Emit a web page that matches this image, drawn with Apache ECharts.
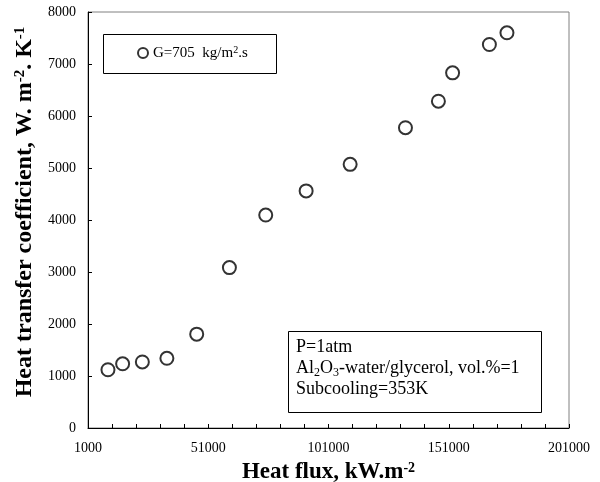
<!DOCTYPE html>
<html><head><meta charset="utf-8">
<script src="https://cdn.jsdelivr.net/npm/echarts@6/dist/echarts.min.js"></script>
<style>html,body{margin:0;padding:0;background:#fff}#c{width:600px;height:482px}</style>
</head><body><div id="c"></div>
<script>
const heatFlux = [9300, 15400, 23600, 33800, 46200, 59800, 74900, 91700, 110000, 133000, 146700, 152600, 167900, 175200];
const htc = [1120, 1235, 1270, 1340, 1805, 3085, 4095, 4560, 5070, 5775, 6285, 6830, 7375, 7600];
const xTicks = [1000, 51000, 101000, 151000, 201000];
const yTicks = [0, 1000, 2000, 3000, 4000, 5000, 6000, 7000, 8000];
const seriesName = 'G=705';
const noteLines = ['P=1atm', 'Al2O3-water/glycerol, vol.%=1', 'Subcooling=353K'];

const serif = '"Liberation Serif", "Times New Roman", serif';
const chart = echarts.init(document.getElementById('c'), null, {renderer: 'canvas'});
chart.setOption({
  animation: false,
  backgroundColor: '#fff',
  grid: {left: 88, right: 31, top: 12, bottom: 54, show: true, borderColor: '#808080', borderWidth: 1,
    containLabel: false, outerBoundsMode: 'none'},
  xAxis: {
    type: 'value', min: xTicks[0], max: xTicks[xTicks.length - 1], interval: 10000,
    axisLine: {lineStyle: {color: '#000', width: 1}},
    axisTick: {inside: true, length: 4, lineStyle: {color: '#000'}},
    splitLine: {show: false},
    axisLabel: {color: '#000', fontFamily: serif, fontSize: 14, margin: 13,
      formatter: v => xTicks.includes(v) ? String(v) : ''},
    name: '{a|Heat flux, kW.m}{s|-2}', nameLocation: 'middle', nameGap: 33,
    nameTextStyle: {rich: {
      a: {fontFamily: serif, fontSize: 23, fontWeight: 'bold', color: '#000'},
      s: {fontFamily: serif, fontSize: 14, fontWeight: 'bold', color: '#000', verticalAlign: 'top', padding: [0, 0, 9, 0]}
    }}
  },
  yAxis: {
    type: 'value', min: yTicks[0], max: yTicks[yTicks.length - 1], interval: 1000,
    axisLine: {show: true, lineStyle: {color: '#000', width: 1}},
    axisTick: {show: true, inside: true, length: 4, lineStyle: {color: '#000'}},
    splitLine: {show: false},
    axisLabel: {color: '#000', fontFamily: serif, fontSize: 14, margin: 12, formatter: v => String(v)},
    name: '{a|Heat transfer coefficient, W. m}{s|-2}{a|. K}{s|-1}', nameLocation: 'middle', nameGap: 48,
    nameTextStyle: {padding: [0, 0, 0, 16], rich: {
      a: {fontFamily: serif, fontSize: 24, fontWeight: 'bold', color: '#000'},
      s: {fontFamily: serif, fontSize: 15, fontWeight: 'bold', color: '#000', verticalAlign: 'top', padding: [0, 0, 9, 0]}
    }}
  },
  legend: {
    left: 132, top: 40, itemWidth: 10, itemHeight: 10, itemGap: 4,
    data: [{name: seriesName, icon: 'circle'}],
    formatter: () => '{a|G=705  kg/m}{s|2}{a|.s}',
    textStyle: {rich: {
      a: {fontFamily: serif, fontSize: 15, color: '#000'},
      s: {fontFamily: serif, fontSize: 10, color: '#000', verticalAlign: 'top', padding: [0, 0, 6, 0]}
    }}
  },
  series: [{
    name: seriesName, type: 'scatter',
    data: heatFlux.map((x, i) => [x, htc[i]]),
    symbol: 'circle', symbolSize: 13,
    itemStyle: {color: '#fff', borderColor: '#000', borderWidth: 2}
  }],
  graphic: [
    {type: 'rect', left: 101, top: 32, shape: {width: 173, height: 39}, style: {fill: null, stroke: '#000', lineWidth: 1}, z: 1},
    {type: 'rect', left: 288, top: 331, shape: {width: 253, height: 81}, style: {fill: '#fff', stroke: '#000', lineWidth: 1}, z: 1},
    {type: 'text', left: 296, top: 338, z: 2, style: {
      text: '{a|' + noteLines[0] + '}\n{a|Al}{b|2}{a|O}{b|3}{a|-water/glycerol, vol.%=1}\n{a|' + noteLines[2] + '}',
      rich: {
        a: {fontFamily: serif, fontSize: 18, color: '#000', lineHeight: 21},
        b: {fontFamily: serif, fontSize: 12, color: '#000', lineHeight: 21, verticalAlign: 'bottom', padding: [6, 0, 0, 0]}
      }
    }}
  ]
});
</script></body></html>
